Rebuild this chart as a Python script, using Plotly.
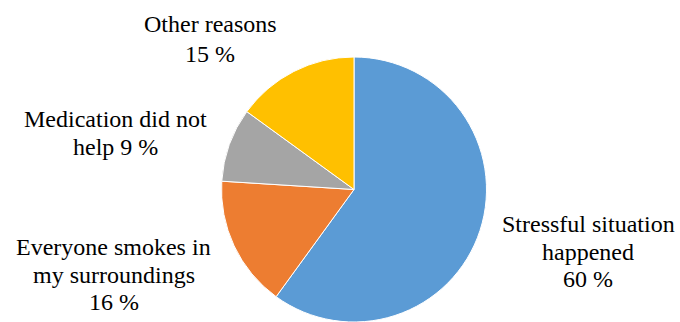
import plotly.graph_objects as go

categories = ["Stressful situation happened", "Everyone smokes in my surroundings",
              "Medication did not help", "Other reasons"]
values = [60, 16, 9, 15]
colors = ["#5B9BD5", "#ED7D31", "#A5A5A5", "#FFC000"]

# label lines (text only); the last line of each gets the percentage appended
label_lines = [
    ["Stressful situation", "happened", ""],
    ["Everyone smokes in", "my surroundings", ""],
    ["Medication did not", "help "],
    ["Other reasons", ""],
]

W, H = 680, 322
cx, top = 354, 57
r = (H - top) / 2

fig = go.Figure(go.Pie(
    labels=categories, values=values, sort=False, direction="clockwise", rotation=0,
    marker=dict(colors=colors, line=dict(color="white", width=1)),
    textinfo="none", hoverinfo="label+percent", showlegend=False,
    domain=dict(x=[(cx - r) / W, (cx + r) / W], y=[0, (H - top) / H]),
))

# label placement: center x and baselines in pixels
label_pos = [
    (588, [232, 260, 287]),
    (114, [255, 283, 310]),
    (115, [127, 155]),
    (210, [32, 62]),
]

fs = 24
serif = "Liberation Serif"
anns = []
for lines, v, (x, bases) in zip(label_lines, values, label_pos):
    lines = list(lines)
    lines[-1] = lines[-1] + f"{v} %"
    for t, b in zip(lines, bases):
        anns.append(dict(
            x=x / W, y=1 - (b - 0.33 * fs) / H, xref="paper", yref="paper",
            text=t, showarrow=False, xanchor="center", yanchor="middle",
            font=dict(size=fs, color="black"),
        ))

fig.update_layout(
    width=W, height=H, margin=dict(l=0, r=0, t=0, b=0),
    font=dict(family=serif, size=fs, color="black"),
    paper_bgcolor="white", plot_bgcolor="white", annotations=anns,
)
fig.write_html("out.html", config={"displayModeBar": False},
               post_script="document.body.style.margin='0';document.body.style.overflow='hidden';")
